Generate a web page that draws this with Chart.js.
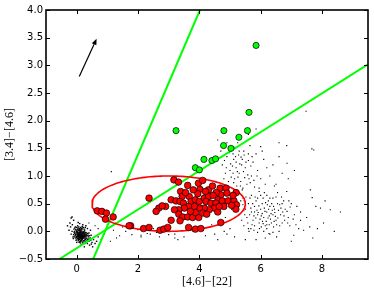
<!DOCTYPE html>
<html>
<head>
<meta charset="utf-8">
<script src="https://cdn.jsdelivr.net/npm/chart.js@4/dist/chart.umd.min.js"></script>
<style>
html,body{margin:0;padding:0;background:#fff;}
canvas{display:block;}
</style>
</head>
<body>
<canvas id="c" width="374" height="293"></canvas>
<script>
// ---- data ----
const xTicks = [0, 2, 4, 6, 8];
const yTicks = [-0.5, 0, 0.5, 1.0, 1.5, 2.0, 2.5, 3.0, 3.5, 4.0];

const greenPts = [[5.85,3.36],[5.62,2.15],[3.24,1.82],[4.8,1.82],[5.57,1.82],[5.29,1.70],[4.79,1.55],[5.03,1.5],[4.15,1.30],[4.41,1.28],[4.53,1.31],[3.87,1.15],[4.0,1.11]];

const redPts = [[3.17,0.93],[3.32,0.89],[3.62,0.83],[3.97,0.87],[4.11,0.92],[4.02,0.76],[4.30,0.75],[4.43,0.82],[4.68,0.78],[4.87,0.78],[4.90,0.69],[4.70,0.66],[4.61,0.57],[4.75,0.55],[4.94,0.55],[5.13,0.55],[5.21,0.48],[5.19,0.40],[3.39,0.72],[3.44,0.63],[3.08,0.57],[3.24,0.55],[3.37,0.54],[3.48,0.51],[3.67,0.63],[3.73,0.54],[3.87,0.57],[4.00,0.54],[4.16,0.60],[4.30,0.63],[4.22,0.54],[4.38,0.51],[4.54,0.51],[4.49,0.42],[4.32,0.39],[4.16,0.42],[4.00,0.42],[3.84,0.45],[3.65,0.45],[3.51,0.42],[3.33,0.39],[3.19,0.39],[3.33,0.31],[3.46,0.26],[3.62,0.26],[3.78,0.25],[3.98,0.25],[4.11,0.33],[4.24,0.31],[3.87,0.34],[3.71,0.36],[2.68,0.42],[2.59,0.36],[2.90,0.45],[2.79,0.46],[2.36,0.60],[3.08,0.20],[3.37,0.19],[1.76,0.10],[2.18,0.05],[2.36,0.07],[2.72,0.02],[2.84,0.04],[2.97,0.07],[3.65,0.07],[3.87,0.04],[4.05,0.05],[4.70,0.16],[0.67,0.37],[0.82,0.36],[0.97,0.33],[0.94,0.22],[1.19,0.26],[1.71,0.10],[5.2,0.7],[5.1,0.65],[4.55,0.7],[4.8,0.45],[5.05,0.47],[4.6,0.35],[3.55,0.7],[4.45,0.65],[3.95,0.68],[4.2,0.72],[3.8,0.75],[4.65,0.45]];

const blackOrigin = [[0.05,-0.02],[0.12,-0.05],[0.08,0.01],[0.15,-0.08],[0.02,-0.06],[0.18,-0.03],[0.1,-0.1],[0.22,-0.07],[0.06,-0.12],[0.14,0.02],[-0.02,-0.03],[0.25,-0.1],[0.09,-0.15],[0.2,-0.13],[0.03,0.04],[0.17,0.03],[-0.05,-0.08],[0.28,-0.05],[0.11,-0.07],[0.07,-0.04],[0.13,-0.11],[0.19,-0.09],[0.0,0.0],[0.23,-0.02],[0.04,-0.09],[0.16,-0.14],[0.3,-0.12],[-0.08,-0.02],[0.1,0.05],[0.26,-0.16],[0.01,-0.14],[0.21,0.0],[0.33,-0.08],[-0.03,0.03],[0.12,-0.18],[0.35,-0.15],[0.07,0.08],[-0.1,-0.06],[0.29,-0.02],[0.18,-0.19],[0.38,-0.1],[0.05,-0.17],[-0.06,0.06],[0.24,0.04],[0.14,-0.02],[0.09,-0.06],[0.2,-0.05],[0.02,-0.01],[0.16,-0.06],[0.11,-0.01],[0.27,-0.08],[0.06,0.02],[-0.12,-0.1],[0.4,-0.18],[0.32,-0.2],[0.22,-0.22],[0.08,-0.2],[-0.04,-0.12],[0.13,0.07],[0.19,0.06],[-0.15,0.0],[0.44,-0.12],[0.36,-0.04],[0.03,0.1],[-0.09,0.04],[0.5,-0.2],[0.15,-0.24],[0.42,-0.25],[-0.18,-0.05],[0.28,0.07],[-0.2,0.08],[0.47,-0.07],[0.0,-0.2],[0.55,-0.15],[-0.14,0.12],[0.1,0.14],[0.3,0.1],[0.6,-0.22],[-0.25,0.02],[0.2,0.12],[0.52,-0.28],[-0.22,0.15],[0.35,0.05],[0.65,-0.18],[0.05,0.16],[-0.3,0.1],[0.25,-0.28],[0.7,-0.1],[-0.1,0.2],[-0.18,0.24],[0.45,0.02],[0.12,-0.03],[0.17,-0.11],[0.23,-0.12],[0.08,-0.08],[0.01,-0.05],[0.31,-0.06],[0.14,-0.09],[-0.01,-0.09],[0.26,-0.04],[-0.15,0.26],
[0.04,-0.04],[0.09,-0.02],[0.13,-0.06],[0.16,-0.01],[0.19,-0.07],[0.21,-0.1],[0.24,-0.06],[0.27,-0.12],[0.11,-0.13],[0.07,-0.1],[0.03,-0.08],[0.0,-0.11],[-0.03,-0.06],[0.06,-0.06],[0.1,-0.08],[0.15,-0.12],[0.18,-0.15],[0.22,-0.17],[0.13,-0.16],[0.08,-0.14],[0.04,-0.13],[0.17,-0.05],[0.2,-0.02],[0.12,0.0],[0.08,0.03],[0.05,0.06],[0.15,0.05],[0.25,-0.01],[0.3,-0.09],[0.33,-0.13],[0.28,-0.15],[0.24,-0.19],[0.19,-0.21],[0.1,-0.19],[-0.02,-0.16],[-0.06,-0.04],[-0.07,0.0],[0.01,0.02],[0.11,0.03],[0.14,-0.04],[0.16,-0.09],[0.2,-0.11],[0.23,-0.09],[0.26,-0.07],[0.09,-0.11],[0.06,-0.15],[0.12,-0.1],[0.18,-0.12],[0.14,-0.13],[0.21,-0.04],[0.32,-0.03],[0.37,-0.07],[0.39,-0.14],[0.34,-0.17],[0.29,-0.19],[0.03,-0.02],[0.07,-0.07],[0.02,-0.1],[-0.01,-0.01],[0.05,-0.1],[0.1,-0.04],[0.16,-0.17],[0.12,-0.21],[0.27,-0.22],[0.35,-0.22],[0.42,-0.08],[0.46,-0.16],[-0.04,0.08],[0.0,0.07],[0.18,0.09],[-0.11,-0.13],[-0.08,-0.1],[0.48,-0.23],[0.4,-0.03],[0.22,0.07],[0.26,0.02]];

const blackBridge = [[0.7,0.05],[0.9,-0.05],[1.2,0.02],[1.4,-0.08],[1.6,0.0],[1.8,-0.06],[2.0,0.03],[2.3,-0.04],[2.6,-0.02],[2.9,0.02],[3.2,-0.05],[0.6,0.1],[1.0,0.12],[1.3,-0.12],[0.8,-0.15],[1.5,0.08],[2.1,-0.1],[2.5,0.05],[0.4,0.15],[1.1,-0.18],[1.13,1.08],[2.1,-0.07],[2.4,-0.05],[2.7,-0.1],[3.0,-0.06],[3.2,-0.12],[3.5,-0.1],[3.8,0.0],[4.2,-0.08],[4.5,-0.05],[4.7,0.1],[4.4,0.12],[3.3,-0.15],[4.6,-0.15],[4.85,0.25],[4.95,0.6],[5.05,0.4],[4.75,0.5]];

const blackCloud = [[4.75,1.2],[4.9,1.35],[5.0,1.1],[5.1,1.4],[5.2,1.25],[5.3,1.05],[5.15,0.95],[5.4,1.3],[5.5,1.15],[5.35,0.9],[5.6,1.4],[5.7,1.0],[5.45,1.45],[5.05,1.5],[4.85,1.05],[5.25,1.6],[5.55,0.85],[5.75,1.25],[5.9,1.1],[6.0,0.95],[5.8,0.8],[6.1,1.3],[4.95,0.9],[5.65,1.55],[5.2,1.15],[5.38,1.2],[5.12,1.3],[4.7,1.45],[5.85,1.4],[6.2,1.15],[5.3,1.45],[5.58,1.02],[5.02,1.22],[5.95,0.78],[6.3,1.0],[4.8,0.95],[5.48,0.97],[5.22,0.82],[5.68,1.18],[6.05,1.45],[5.1,1.05],[4.9,1.6],[5.78,0.92],[6.15,0.85],[5.42,0.78],[5.6,1.28],[5.28,1.38],[6.4,1.2],[6.6,1.6],[6.85,1.55],[6.0,1.53],[6.86,1.23],[7.73,1.47],[7.67,1.49],[7.48,2.17],[6.7,1.05],[6.5,0.85],[6.9,0.95],[7.1,1.1],[7.62,0.75],[7.68,0.61],[5.85,1.85],[5.6,1.75],[4.6,1.65],[6.6,1.35],
[4.82,1.28],[4.98,1.42],[5.08,1.18],[5.18,1.35],[5.32,1.22],[5.44,1.08],[5.26,0.98],[5.36,1.34],[5.52,1.25],[5.62,0.95],[5.16,1.52],[4.88,1.15],[5.04,0.98],[5.72,1.35],[5.46,1.38],[5.24,1.08],[5.34,0.82],[5.12,0.88],[5.66,0.88],[5.88,1.0],
[5.6,0.5],[5.7,0.35],[5.8,0.45],[5.9,0.3],[6.0,0.4],[6.1,0.25],[6.2,0.35],[6.3,0.45],[6.4,0.3],[6.5,0.2],[5.75,0.2],[5.85,0.55],[5.95,0.15],[6.05,0.5],[6.15,0.1],[6.25,0.55],[6.35,0.15],[6.45,0.4],[6.55,0.5],[6.65,0.3],[5.65,0.6],[5.55,0.25],[5.5,0.4],[5.45,0.1],[5.6,0.05],[5.7,0.65],[6.0,0.65],[6.2,0.05],[6.4,0.6],[6.7,0.15],[6.8,0.4],[6.9,0.25],[7.0,0.5],[7.1,0.3],[6.75,0.55],[6.6,0.0],[6.3,-0.05],[5.9,-0.02],[5.8,0.1],[6.05,0.32],[6.12,0.42],[5.98,0.22],[6.28,0.28],[6.18,0.18],[5.88,0.38],[6.38,0.38],[6.48,0.27],[5.78,0.28],[6.08,0.6],[6.22,0.48],[5.68,0.42],[6.58,0.38],[6.02,0.08],[6.32,0.22],[6.92,0.55],[7.15,0.12],[7.3,0.35],[7.24,0.05],[7.08,-0.07],[7.4,0.02],[5.35,0.55],[5.3,0.3],[5.25,0.7],[5.4,0.75],[5.62,0.0],[6.27,-0.04],[4.81,0.0],[5.15,-0.1],[5.0,0.05],[4.9,-0.05],[5.5,-0.15],[5.95,0.72],[6.55,0.7],[6.85,0.72],[6.45,0.82],[5.82,0.62],[6.12,0.7],[6.68,0.62],[6.78,0.2],[6.95,0.1],[5.72,0.12],[6.42,0.08],[6.62,0.48],[6.72,0.35],[5.52,0.62],[5.42,0.48],[6.52,-0.1],[7.0,-0.18],[6.15,-0.12],[5.85,-0.15],[7.5,0.25],[7.8,0.45],[7.95,0.42],[8.1,0.55],[8.27,0.39],[8.05,0.15],[8.6,0.35],[7.6,0.08],[7.85,0.05],[7.7,-0.12],[8.4,0.0],
[5.92,0.34],[6.02,0.28],[6.14,0.36],[6.24,0.24],[6.34,0.32],[6.44,0.18],[5.84,0.24],[5.94,0.46],[6.06,0.18],[6.16,0.52],[6.26,0.4],[6.36,0.5],[6.46,0.34],[6.56,0.24],[5.74,0.5],[5.64,0.3],[5.58,0.15],[6.66,0.42],[6.76,0.28],[6.86,0.36],[6.96,0.44],[7.06,0.22],[5.96,0.05],[6.1,0.0],[6.4,-0.02],[5.78,0.02],[6.3,0.6],[6.5,0.62],[6.2,0.65],[5.9,0.6],[5.5,0.52],[5.48,0.3],[5.38,0.2],[6.7,0.5],[6.88,0.15],[7.18,0.45],[7.3,0.2],[6.08,0.14],[6.2,0.12],[6.52,0.12],[6.62,0.1],[5.68,0.05],[5.8,0.35],[6.42,0.45],[6.28,0.12]];

// green lines: end points read where they leave the frame
const line1 = [[0.54,-0.5],[4.02,4.0]];
const line2 = [[-0.56,-0.5],[9.5,3.02]];
// red ellipse: centre and semi-axes
const ellipseCentre = [3.0, 0.5];
const ellipseAxes = [2.5, 0.5];
// arrow: tail and head
const arrowPts = [[0.085,2.8],[0.65,3.48]];

// ---- build ----
const toXY = a => a.map(p => ({x:p[0], y:p[1]}));
const ellipsePts = [];
for (let i = 0; i <= 180; i++) {
  const t = i / 180 * 2 * Math.PI;
  ellipsePts.push({x: ellipseCentre[0] + ellipseAxes[0]*Math.cos(t), y: ellipseCentre[1] + ellipseAxes[1]*Math.sin(t)});
}
const fmtY = v => (v < 0 ? '\u2212' : '') + Math.abs(v).toFixed(1);
const fmtX = v => (v < 0 ? '\u2212' : '') + Math.abs(v);

const frame = {
  id: 'frame',
  afterDraw(chart) {
    const {ctx, chartArea: a, scales: {x, y}} = chart;
    ctx.save();
    // arrow
    const x0 = x.getPixelForValue(arrowPts[0][0]), y0 = y.getPixelForValue(arrowPts[0][1]);
    const x1 = x.getPixelForValue(arrowPts[1][0]), y1 = y.getPixelForValue(arrowPts[1][1]);
    const ang = Math.atan2(y1 - y0, x1 - x0);
    const hl = 6, hw = 2.5;
    const bx = x1 - hl*Math.cos(ang), by = y1 - hl*Math.sin(ang);
    ctx.strokeStyle = '#000'; ctx.fillStyle = '#000'; ctx.lineWidth = 1.2;
    ctx.beginPath(); ctx.moveTo(x0, y0); ctx.lineTo(bx, by); ctx.stroke();
    ctx.beginPath();
    ctx.moveTo(x1, y1);
    ctx.lineTo(bx - hw*Math.sin(ang), by + hw*Math.cos(ang));
    ctx.lineTo(bx + hw*Math.sin(ang), by - hw*Math.cos(ang));
    ctx.closePath(); ctx.fill();
    // ticks (inward, all four sides)
    ctx.lineWidth = 1;
    ctx.beginPath();
    xTicks.forEach(v => {
      const px = Math.round(x.getPixelForValue(v)) + 0.5;
      ctx.moveTo(px, a.bottom); ctx.lineTo(px, a.bottom - 4);
      ctx.moveTo(px, a.top); ctx.lineTo(px, a.top + 4);
    });
    yTicks.forEach(v => {
      const py = Math.round(y.getPixelForValue(v)) + 0.5;
      ctx.moveTo(a.left, py); ctx.lineTo(a.left + 4, py);
      ctx.moveTo(a.right, py); ctx.lineTo(a.right - 4, py);
    });
    ctx.stroke();
    // frame
    ctx.lineWidth = 1.6;
    ctx.strokeRect(a.left, a.top, a.right - a.left, a.bottom - a.top);
    ctx.restore();
  }
};

new Chart(document.getElementById('c'), {
  type: 'scatter',
  data: {
    datasets: [
      {label:'green', data: toXY(greenPts), order: 0, pointRadius: 3.1, backgroundColor:'#00ff00', borderColor:'#000', borderWidth: 0.7},
      {label:'red', data: toXY(redPts), order: 1, pointRadius: 3.3, backgroundColor:'#ff0000', borderColor:'#000', borderWidth: 0.7},
      {label:'ellipse', type:'line', data: ellipsePts, order: 2, showLine:true, pointRadius:0, borderColor:'#ff0000', borderWidth:1.6, tension:0, fill:false},
      {label:'line1', type:'line', data: toXY(line1), order: 3, showLine:true, pointRadius:0, borderColor:'#00ff00', borderWidth:2, fill:false},
      {label:'line2', type:'line', data: toXY(line2), order: 3, showLine:true, pointRadius:0, borderColor:'#00ff00', borderWidth:2, fill:false},
      {label:'black1', data: toXY(blackOrigin), order: 5, pointStyle:'rect', pointRadius:1.0, backgroundColor:'#000', borderWidth:0},
      {label:'black2', data: toXY(blackBridge), order: 5, pointStyle:'rect', pointRadius:0.8, backgroundColor:'#000', borderWidth:0},
      {label:'black3', data: toXY(blackCloud), order: 5, pointStyle:'rect', pointRadius:0.8, backgroundColor:'#000', borderWidth:0}
    ]
  },
  options: {
    responsive: false,
    animation: false,
    devicePixelRatio: 1,
    layout: {padding: {left: 0, right: 6, top: 10, bottom: 0}},
    plugins: {legend: {display: false}, tooltip: {enabled: false}},
    scales: {
      x: {
        type: 'linear', min: -1, max: 9.5,
        afterBuildTicks: s => { s.ticks = xTicks.map(v => ({value: v})); },
        afterFit: s => { s.height = 34; },
        grid: {display: false, drawTicks: false},
        border: {display: false},
        ticks: {color:'#000', font:{family:'DejaVu Sans', size:10}, padding: 4, maxRotation: 0, autoSkip: false, callback: v => fmtX(v)},
        title: {display: true, text: '[4.6]\u2212[22]', color:'#000', font:{family:'Liberation Serif', size:12}, padding:{top:0, bottom:4}}
      },
      y: {
        type: 'linear', min: -0.5, max: 4.0,
        afterBuildTicks: s => { s.ticks = yTicks.map(v => ({value: v})); },
        afterFit: s => { s.width = 46; },
        grid: {display: false, drawTicks: false},
        border: {display: false},
        ticks: {color:'#000', font:{family:'DejaVu Sans', size:10}, padding: 3, autoSkip: false, callback: v => fmtY(v)},
        title: {display: true, text: '[3.4]\u2212[4.6]', color:'#000', font:{family:'Liberation Serif', size:12}, padding:{top:3, bottom:0}}
      }
    }
  },
  plugins: [frame]
});
</script>
</body>
</html>
